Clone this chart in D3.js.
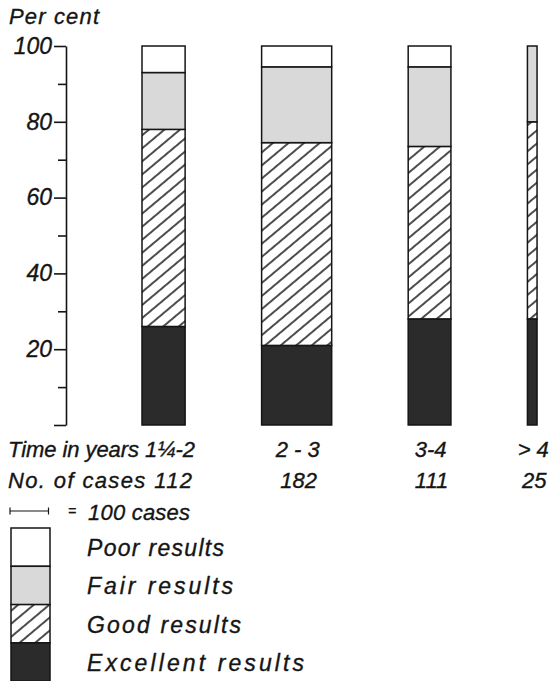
<!DOCTYPE html>
<html>
<head>
<meta charset="utf-8">
<script src="https://cdn.jsdelivr.net/npm/d3@7"></script>
<style>
  body { margin: 0; background: #fff; }
  text { font-family: "Liberation Sans", Arial, sans-serif; font-style: italic; fill: #151515; stroke: #151515; stroke-width: 0.35px; }
</style>
</head>
<body>
<svg id="chart" width="552" height="681"></svg>
<script>
// Results by follow-up time; bar width is proportional to the number of cases
const categories = ["1¼-2", "2 - 3", "3-4", "> 4"];
const cases = [112, 182, 111, 25];
const excellent = [26, 21, 28, 28];
const good = [52, 53.5, 45.5, 52];
const fair = [15, 20, 21, 20];
const poor = [7, 5.5, 5.5, 0];

const yTickLabels = [20, 40, 60, 80, 100];
const yMajorTicks = [0, 20, 40, 60, 80, 100];
const yMinorTicks = [10, 30, 50, 70, 90];

const resultKeys = ["excellent", "good", "fair", "poor"];
const resultNames = ["Poor results", "Fair results", "Good results", "Excellent results"];
const legendKeys = ["poor", "fair", "good", "excellent"];
const scaleBarCases = 100;

const svg = d3.select("#chart");

// hatching for "good"
const defs = svg.append("defs");
const hatch = defs.append("pattern")
  .attr("id", "hatch")
  .attr("patternUnits", "userSpaceOnUse")
  .attr("width", 10).attr("height", 10)
  .attr("patternTransform", "rotate(-40)");
hatch.append("rect").attr("width", 10).attr("height", 10).attr("fill", "#fff");
hatch.append("line").attr("x1", 0).attr("x2", 10).attr("y1", 5).attr("y2", 5)
  .attr("stroke", "#111").attr("stroke-width", 1.5);

const fills = {
  poor: "#ffffff",
  fair: "#d9d9d9",
  good: "url(#hatch)",
  excellent: "#2b2b2b"
};

// scales
const y = d3.scaleLinear().domain([0, 100]).range([425, 46]);
const w = d3.scaleLinear().domain([0, 100]).range([0, 38.5]);
const firstBarX = 142, barGap = 76.5;
const lefts = [];
cases.reduce((x, n, i) => { lefts[i] = x; return x + w(n) + barGap; }, firstBarX);
const centers = cases.map((n, i) => lefts[i] + w(n) / 2);

// stacked data
const rows = categories.map((c, i) => ({
  category: c, cases: cases[i],
  excellent: excellent[i], good: good[i], fair: fair[i], poor: poor[i]
}));
const series = d3.stack().keys(resultKeys)(rows);

const bars = svg.append("g");
series.forEach(s => {
  bars.selectAll(null)
    .data(s.map((d, i) => ({ d, i })).filter(o => o.d[1] - o.d[0] > 0))
    .join("rect")
    .attr("x", o => lefts[o.i])
    .attr("width", o => w(cases[o.i]))
    .attr("y", o => y(o.d[1]))
    .attr("height", o => y(o.d[0]) - y(o.d[1]))
    .attr("fill", fills[s.key])
    .attr("stroke", "#151515")
    .attr("stroke-width", 1.5);
});

// y axis
const axisG = svg.append("g").attr("transform", "translate(66,0)");
axisG.call(d3.axisLeft(y)
  .tickValues(yMajorTicks)
  .tickSize(12)
  .tickSizeOuter(0)
  .tickPadding(2)
  .tickFormat(d => yTickLabels.includes(d) ? d : ""));
const minorG = svg.append("g").attr("transform", "translate(66,0)");
minorG.call(d3.axisLeft(y).tickValues(yMinorTicks).tickSize(8).tickFormat(""));
minorG.select(".domain").remove();
svg.selectAll(".domain, .tick line").attr("stroke", "#151515").attr("stroke-width", 1.6);
axisG.selectAll(".tick text")
  .attr("font-size", 23)
  .attr("font-family", null)
  .attr("fill", "#151515");
axisG.attr("font-family", null);

svg.append("text").attr("x", 9).attr("y", 24)
  .attr("font-size", 22).attr("textLength", 90).text("Per cent");

// category rows
svg.append("text").attr("x", 8).attr("y", 457)
  .attr("font-size", 22).attr("textLength", 187)
  .text("Time in years " + categories[0]);
svg.append("text").attr("x", 8).attr("y", 488)
  .attr("font-size", 22).attr("textLength", 184)
  .text("No. of cases " + cases[0]);

svg.selectAll(null).data(categories.slice(1)).join("text")
  .attr("x", (d, i) => centers[i + 1] + 1)
  .attr("y", 457)
  .attr("text-anchor", "middle")
  .attr("font-size", 22)
  .text(d => d);
svg.selectAll(null).data(cases.slice(1)).join("text")
  .attr("x", (d, i) => centers[i + 1] + 2)
  .attr("y", 488)
  .attr("text-anchor", "middle")
  .attr("font-size", 22)
  .text(d => d);

// scale bar: 100 cases
const sb = svg.append("g").attr("stroke", "#151515").attr("stroke-width", 1.2);
const sbX0 = 10, sbY = 511;
sb.append("line").attr("x1", sbX0).attr("x2", sbX0 + w(scaleBarCases)).attr("y1", sbY).attr("y2", sbY);
sb.append("line").attr("x1", sbX0).attr("x2", sbX0).attr("y1", sbY - 3.5).attr("y2", sbY + 3.5);
sb.append("line").attr("x1", sbX0 + w(scaleBarCases)).attr("x2", sbX0 + w(scaleBarCases)).attr("y1", sbY - 3.5).attr("y2", sbY + 3.5);
svg.append("text").attr("x", 68).attr("y", 516).attr("font-size", 14).text("=");
svg.append("text").attr("x", 88).attr("y", 520)
  .attr("font-size", 22).attr("textLength", 102).text(scaleBarCases + " cases");

// legend
const legendTop = 528, boxH = 38.3;
const legendWidths = [137, 146, 154, 217];
const lg = svg.append("g");
legendKeys.forEach((k, i) => {
  lg.append("rect")
    .attr("x", 11).attr("y", legendTop + i * boxH)
    .attr("width", 39).attr("height", boxH)
    .attr("fill", fills[k]).attr("stroke", "#151515").attr("stroke-width", 1.5);
  lg.append("text")
    .attr("x", 87).attr("y", legendTop + i * boxH + 28)
    .attr("font-size", 23)
    .attr("textLength", legendWidths[i])
    .text(resultNames[i]);
});
</script>
</body>
</html>
